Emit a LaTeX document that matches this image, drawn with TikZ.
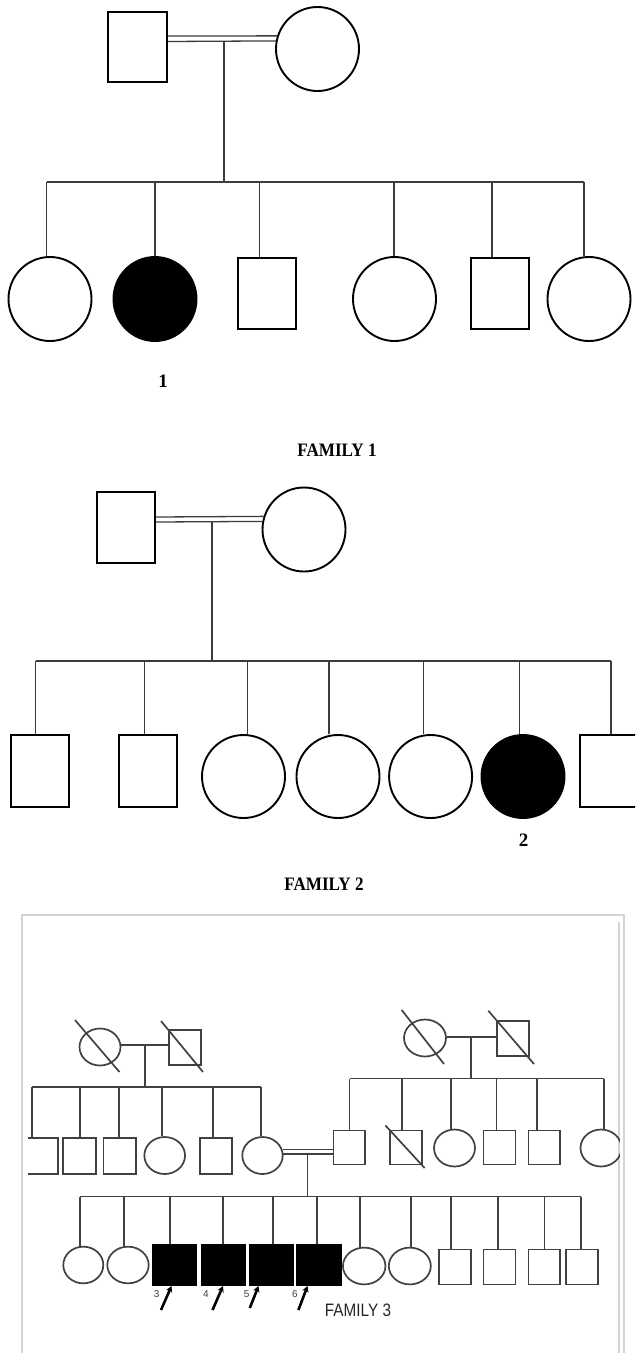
\documentclass[tikz,border=0pt]{standalone}
\usepackage{fontspec}
\usepackage{graphicx}
\setmainfont{Liberation Serif}
\newfontfamily\arialf{Liberation Sans}
\usetikzlibrary{shapes.geometric,arrows.meta}
\definecolor{lnA}{RGB}{60,60,60}
\definecolor{lnB}{RGB}{65,65,65}
\definecolor{frm}{RGB}{212,212,212}
\begin{document}
\begin{tikzpicture}[x=1pt,y=-1pt,
  bigsq/.style={draw=black, line width=1.9pt, rectangle, inner sep=0pt, minimum width=58.5pt, minimum height=71pt},
  bigci/.style={draw=black, line width=1.9pt, ellipse, inner sep=0pt, minimum width=83pt, minimum height=84pt},
  aff/.style={fill=black},
  conA/.style={draw=lnA, line width=1.3pt},
  smsq/.style={draw=lnB, line width=1.7pt, rectangle, inner sep=0pt, minimum width=32pt, minimum height=35pt},
  smci/.style={draw=lnB, line width=1.7pt, ellipse, inner sep=0pt, minimum width=41pt, minimum height=37pt},
  affsq/.style={draw=black, fill=black, line width=0.8pt, rectangle, inner sep=0pt, minimum width=44.5pt, minimum height=41pt},
  conB/.style={draw=lnB, line width=1.7pt},
  dblB/.style={draw=lnB, line width=1.2pt},
  frame/.style={draw=frm, line width=1.6pt},
  famlab/.style={font=\bfseries\fontsize{19}{21}\selectfont, inner sep=0pt},
  numlab/.style={font=\bfseries\fontsize{19}{21}\selectfont, inner sep=0pt},
  arr/.style={draw=black, line width=2.6pt, -{Stealth[length=6pt,width=6.5pt]}},
  smnum/.style={font=\arialf\fontsize{10}{11}\selectfont, text=lnB, inner sep=0pt},
  f3lab/.style={font=\arialf\fontsize{18}{20}\selectfont, text=black!85, inner sep=0pt}
]
\useasboundingbox (0,0) rectangle (635,1353);
\fill[white] (0,0) rectangle (635,1353);
\clip (0,0) rectangle (635,1353);

% ================= FAMILY 1 =================
\node[bigsq, minimum width=59pt, minimum height=70pt] (f1fa) at (137.5,47) {};
\node[bigci] (f1mo) at (317.5,49) {};
\draw[conA] (f1fa.east |- 0,36) -- (f1mo.162);
\draw[conA] (f1fa.east |- 0,41.5) -- (f1mo.169);
\coordinate (f1m) at (224,41.5);
\coordinate (f1s) at (224,182);
\draw[conA] (f1m) -- (f1s);
\coordinate (f1L) at (46.6,182);
\coordinate (f1R) at (584,182);
\draw[conA] (f1L) -- (f1R);

\node[bigci] (f1c1) at (50,299) {};
\node[bigci,aff] (f1c2) at (155,299) {};
\node[bigsq] (f1c3) at (267,293.5) {};
\node[bigci] (f1c4) at (394.5,299) {};
\node[bigsq] (f1c5) at (500,293.5) {};
\node[bigci] (f1c6) at (589,299) {};
\foreach \n/\x in {1/46.6,2/155,3/259.5,4/394,5/492,6/584}
  \draw[conA] (\x,182) -- (\x,182 |- f1c\n.north);

\node[numlab] (f1num) at (163,381.5) {1};
\node[famlab] (f1lab) at (337,450.5) {\scalebox{0.9}[1]{FAMILY 1}};

% ================= FAMILY 2 =================
\node[bigsq, minimum width=58pt, minimum height=71pt] (f2fa) at (126,527.5) {};
\node[bigci] (f2mo) at (304,529.5) {};
\draw[conA] (f2fa.east |- 0,517) -- (f2mo.162.5);
\draw[conA] (f2fa.east |- 0,522) -- (f2mo.169.6);
\coordinate (f2m) at (212,522);
\coordinate (f2s) at (212,661);
\draw[conA] (f2m) -- (f2s);
\coordinate (f2L) at (35.6,661);
\coordinate (f2R) at (611,661);
\draw[conA] (f2L) -- (f2R);

\node[bigsq, minimum width=57.5pt, minimum height=72pt] (f2c1) at (40,771) {};
\node[bigsq, minimum width=58.5pt, minimum height=72pt] (f2c2) at (147.8,771) {};
\node[bigci, minimum height=83pt] (f2c3) at (243.5,776.5) {};
\node[bigci, minimum height=83pt] (f2c4) at (338,776.5) {};
\node[bigci, minimum height=83pt] (f2c5) at (430.6,776.5) {};
\node[bigci, minimum height=83pt, aff] (f2c6) at (523,776.5) {};
\node[bigsq, minimum width=58pt, minimum height=72pt] (f2c7) at (609,771) {};
\foreach \n/\x in {1/35.6,2/144.5,3/247.8,4/329,5/423.5,6/519.4,7/611}
  \draw[conA] (\x,661) -- (\x,661 |- f2c\n.north);

\node[numlab] (f2num) at (523.5,840) {2};
\node[famlab] (f2lab) at (324,884) {\scalebox{0.9}[1]{FAMILY 2}};

% ================= FAMILY 3 =================
\draw[frame] (22,1360) -- (22,915) -- (624,915) -- (624,1360);
\draw[frame] (619,922) -- (619,1360);

% left grandparents
\node[smci, minimum width=41pt, minimum height=37pt] (gm1) at (100,1047) {};
\node[smsq, minimum width=32pt, minimum height=35pt] (gf1) at (185,1047.5) {};
\draw[conB] (75,1020) -- (119.5,1072);
\draw[conB] (161,1021) -- (203,1072);
\draw[conB] (gm1.east |- 0,1045) -- (gf1.west |- 0,1045);
\coordinate (g1m) at (145,1045);
\coordinate (g1s) at (145,1087);
\draw[conB] (g1m) -- (g1s);
\coordinate (g1L) at (32,1087);
\coordinate (g1R) at (260.7,1087);
\draw[conB] (g1L) -- (g1R);

% left sibship
\draw[conB] (28,1138) -- (58.3,1138) -- (58.3,1174) -- (28,1174);
\coordinate (f3L1) at (32,1138);
\node[smsq, minimum width=32.4pt, minimum height=36pt] (f3L2) at (79.5,1156) {};
\node[smsq, minimum width=32.7pt, minimum height=36pt] (f3L3) at (119.7,1156) {};
\node[smci, minimum width=40.7pt, minimum height=37pt] (f3L4) at (164.7,1155.5) {};
\node[smsq, minimum width=32.3pt, minimum height=36pt] (f3L5) at (216,1156) {};
\node[smci, minimum width=40.4pt, minimum height=37pt] (f3L6) at (262.5,1155.5) {};
\draw[conB] (32,1087) -- (f3L1);
\foreach \n/\x in {2/80,3/119.3,4/161.7,5/213.3,6/260.7}
  \draw[conB] (\x,1087) -- (\x,1087 |- f3L\n.north);

% right grandparents
\node[smci, minimum width=42pt, minimum height=37pt] (gm2) at (425,1038) {};
\node[smsq, minimum width=32.3pt, minimum height=35pt] (gf2) at (513,1038.4) {};
\draw[conB] (401.7,1010) -- (444,1064);
\draw[conB] (488.3,1010.7) -- (534,1064);
\draw[conB] (gm2.east |- 0,1036.7) -- (gf2.west |- 0,1036.7);
\coordinate (g2m) at (470.9,1036.7);
\coordinate (g2s) at (470.9,1078.5);
\draw[conB] (g2m) -- (g2s);
\coordinate (g2L) at (349.6,1078.5);
\coordinate (g2R) at (604.2,1078.5);
\draw[conB] (g2L) -- (g2R);

% right sibship
\node[smsq, minimum width=31.8pt, minimum height=34.2pt] (f3R1) at (349.4,1147.5) {};
\node[smsq, minimum width=32.5pt, minimum height=34.2pt] (f3R2) at (406,1147.5) {};
\draw[conB] (385.4,1125.4) -- (424.6,1168);
\node[smci, minimum width=41pt, minimum height=37pt] (f3R3) at (454.5,1148) {};
\node[smsq, minimum width=32.1pt, minimum height=34.2pt] (f3R4) at (499.4,1147.5) {};
\node[smsq, minimum width=31.8pt, minimum height=34.2pt] (f3R5) at (544.4,1147.5) {};
\begin{scope}
  \clip (560,1100) rectangle (619.8,1200);
  \node[smci, minimum width=41pt, minimum height=37pt] (f3R6) at (601,1148) {};
\end{scope}
\foreach \n/\x in {1/349.6,2/402,3/450.8,4/496.6,5/536.8,6/604.2}
  \draw[conB] (\x,1078.5) -- (\x,1078.5 |- f3R\n.north);

% consanguineous marriage
\draw[dblB] (f3L6.16) -- (f3L6.16 -| f3R1.west);
\draw[dblB] (f3L6.4) -- (f3L6.4 -| f3R1.west);
\coordinate (f3m) at (307.4,1154.5);
\coordinate (f3s) at (307.4,1196.5);
\draw[conB] (f3m) -- (f3s);
\coordinate (f3sL) at (80,1196.5);
\coordinate (f3sR) at (580.7,1196.5);
\draw[conB] (f3sL) -- (f3sR);

% third generation
\node[smci, minimum width=40pt, minimum height=36.7pt] (k1) at (83.3,1265) {};
\node[smci, minimum width=41.4pt, minimum height=36.7pt] (k2) at (128,1265) {};
\node[affsq] (k3) at (174.2,1264.5) {};
\node[affsq] (k4) at (223.3,1264.5) {};
\node[affsq] (k5) at (271.3,1264.5) {};
\node[affsq] (k6) at (318.8,1264.5) {};
\node[smci, minimum width=42.5pt, minimum height=36.8pt] (k7) at (364.2,1266) {};
\node[smci, minimum width=42pt, minimum height=36.8pt] (k8) at (409.8,1266) {};
\node[smsq, minimum width=32pt, minimum height=35.2pt] (k9) at (455,1267) {};
\node[smsq, minimum width=32.1pt, minimum height=35.2pt] (k10) at (499.4,1267) {};
\node[smsq, minimum width=31.8pt, minimum height=35.2pt] (k11) at (544.4,1267) {};
\node[smsq, minimum width=32.5pt, minimum height=35.2pt] (k12) at (582,1267) {};
\foreach \n/\x in {1/80,2/124.3,3/170,4/223.3,5/273.3,6/316.7,7/360.3,8/411.2,9/450.8,10/497.7,11/544.6,12/580.7}
  \draw[conB] (\x,1196.5) -- (\x,1196.5 |- k\n.north);

% probands
\coordinate (a3s) at (161,1310);
\coordinate (a3t) at (171.5,1286);
\coordinate (a4s) at (212.5,1310);
\coordinate (a4t) at (223,1286);
\coordinate (a5s) at (249.8,1308);
\coordinate (a5t) at (258.5,1286);
\coordinate (a6s) at (298.4,1310);
\coordinate (a6t) at (307.5,1286);
\draw[arr] (a3s) -- (a3t);
\draw[arr] (a4s) -- (a4t);
\draw[arr] (a5s) -- (a5t);
\draw[arr] (a6s) -- (a6t);
\node[smnum] (n3) at (156.7,1294) {3};
\node[smnum] (n4) at (206,1294) {4};
\node[smnum] (n5) at (246.7,1294) {5};
\node[smnum] (n6) at (295,1294) {6};
\node[f3lab] (f3lab) at (358,1310) {\scalebox{0.85}[1]{FAMILY 3}};
\end{tikzpicture}
\end{document}
